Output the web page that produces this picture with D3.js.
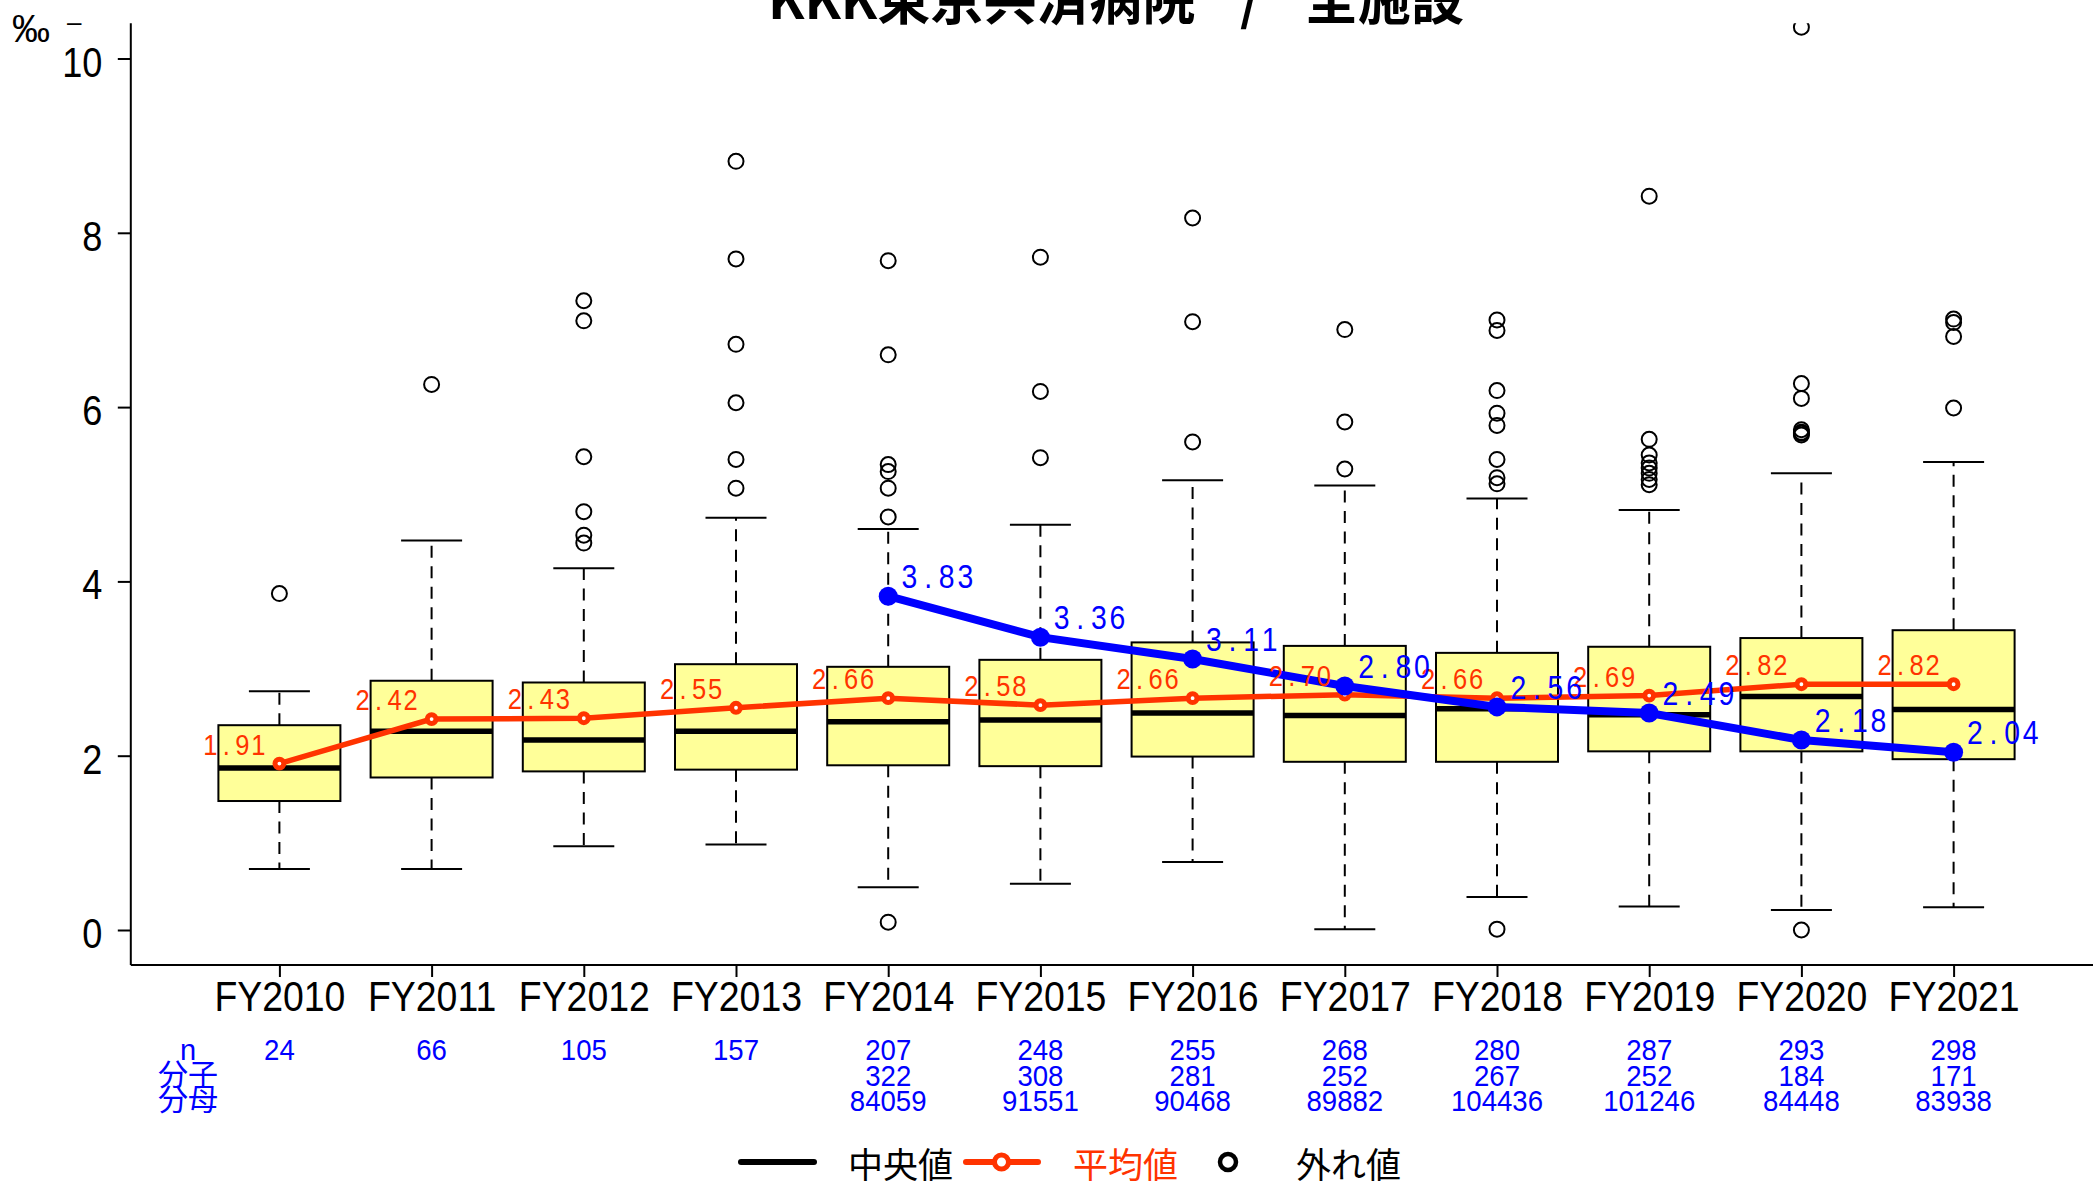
<!DOCTYPE html>
<html><head><meta charset="utf-8">
<script src="https://cdn.jsdelivr.net/npm/d3@7"></script>
<style>body{margin:0;background:#fff;} svg{display:block;}</style>
</head><body><svg id="c" width="2093" height="1184"></svg>
<script>
// ---------- data ----------
const categories = ["FY2010","FY2011","FY2012","FY2013","FY2014","FY2015","FY2016","FY2017","FY2018","FY2019","FY2020","FY2021"];
const nCounts = [24,66,105,157,207,248,255,268,280,287,293,298];
const numerators = [null,null,null,null,322,308,281,252,267,252,184,171];
const denominators = [null,null,null,null,84059,91551,90468,89882,104436,101246,84448,83938];
const whiskerLow = [0.70,0.70,0.96,0.98,0.49,0.53,0.78,0.01,0.38,0.27,0.23,0.26];
const q1 = [1.48,1.75,1.82,1.84,1.89,1.88,1.99,1.93,1.93,2.05,2.05,1.96];
const medians = [1.86,2.28,2.18,2.28,2.39,2.41,2.49,2.46,2.54,2.47,2.68,2.53];
const q3 = [2.35,2.86,2.84,3.05,3.02,3.10,3.30,3.26,3.18,3.25,3.35,3.44];
const whiskerHigh = [2.74,4.47,4.15,4.73,4.60,4.65,5.16,5.10,4.95,4.82,5.24,5.37];
const outliers = [
  [3.86],
  [6.26],
  [7.22,6.99,5.43,4.80,4.53,4.44],
  [8.82,7.70,6.72,6.05,5.40,5.07],
  [7.68,6.60,5.34,5.26,5.07,4.74,0.09],
  [7.72,6.18,5.42],
  [8.17,6.98,5.60],
  [6.89,5.83,5.29],
  [7.00,6.88,6.19,5.93,5.79,5.40,5.19,5.12,0.01],
  [8.42,5.63,5.45,5.36,5.30,5.24,5.17,5.11],
  [10.36,6.27,6.10,5.74,5.71,5.70,5.68,0.00],
  [7.01,6.97,6.81,5.99]
];
const means = [1.91,2.42,2.43,2.55,2.66,2.58,2.66,2.70,2.66,2.69,2.82,2.82];
const overallRates = [null,null,null,null,3.83,3.36,3.11,2.80,2.56,2.49,2.18,2.04];
const yTicks = [0,2,4,6,8,10];
const titleText = "KKK東京共済病院 / 全施設";
const unitLabel = "‰";
const rowLabels = ["n","分子","分母"];
const legendLabels = ["中央値","平均値","外れ値"];

// ---------- styles ----------
const RED = "#FF3300", BLUE = "#0000FF", BOXFILL = "#FFFF99";
const LATIN = "'Liberation Sans', Arial, sans-serif";
const CJK = "'Noto Sans CJK JP', 'Noto Sans', sans-serif";

const svg = d3.select("#c");
const x = d3.scalePoint().domain(categories).range([279.4, 1953.6]);
const y = d3.scaleLinear().domain([0, 10]).range([930, 58.5]);
const axisX0 = 130.8, axisY0 = 965, plotTop = 23.3;

function txt(parent, px, py, str, o) {
  return parent.append("text")
    .attr("transform", `translate(${px},${py}) scale(${o.sx || 1},1)`)
    .attr("font-family", o.ff || LATIN)
    .attr("font-size", o.fs)
    .attr("font-weight", o.fw || "normal")
    .attr("fill", o.fill || "#000")
    .attr("text-anchor", o.anchor || "start")
    .text(str);
}
// fixed-pitch, horizontally condensed label: each character centred in a cell
function cellText(parent, x0, py, str, cell, fs, sx, fill, alignEnd) {
  const n = str.length;
  const start = alignEnd ? x0 - n * cell : x0;
  const xs = d3.range(n).map(i => ((i + 0.5) * cell / sx).toFixed(2)).join(" ");
  return parent.append("text")
    .attr("transform", `translate(${start},${py}) scale(${sx},1)`)
    .attr("x", xs).attr("y", 0)
    .attr("font-family", LATIN).attr("font-size", fs).attr("fill", fill)
    .attr("text-anchor", "middle")
    .text(str);
}

// clip
svg.append("defs").append("clipPath").attr("id", "plotclip")
  .append("rect").attr("x", axisX0).attr("y", plotTop)
  .attr("width", 2093 - axisX0).attr("height", axisY0 - plotTop);

// title
svg.append("text")
  .attr("x", 768).attr("y", 19)
  .attr("font-family", CJK).attr("font-weight", "bold").attr("font-size", 56)
  .attr("word-spacing", 34)
  .attr("textLength", 696).attr("lengthAdjust", "spacingAndGlyphs")
  .text(titleText);

// unit label
txt(svg, 12, 41.5, unitLabel, {fs: 38});
txt(svg, 67, 31, "–", {fs: 26});

// axes
const yAxis = d3.axisLeft(y).tickValues(yTicks).tickSize(13).tickFormat(d3.format("d"));
const gy = svg.append("g").attr("transform", `translate(${axisX0},0)`).call(yAxis);
gy.select(".domain").remove();
gy.selectAll(".tick line").attr("stroke", "#000").attr("stroke-width", 2);
gy.selectAll(".tick text")
  .attr("font-family", LATIN).attr("font-size", 42).attr("fill", "#000")
  .attr("dy", null).attr("y", 17.5).attr("x", -28.5 / 0.86)
  .attr("transform", "scale(0.86,1)");

const xAxis = d3.axisBottom(x).tickSize(12);
const gx = svg.append("g").attr("transform", `translate(0,${axisY0})`).call(xAxis);
gx.select(".domain").remove();
gx.selectAll(".tick line").attr("stroke", "#000").attr("stroke-width", 2);
gx.selectAll(".tick text")
  .attr("font-family", LATIN).attr("font-size", 43).attr("fill", "#000")
  .attr("dy", null).attr("y", 46.5)
  .attr("transform", "scale(0.87,1)");

// frame lines (L shape)
svg.append("line").attr("x1", axisX0).attr("x2", axisX0).attr("y1", plotTop).attr("y2", axisY0)
  .attr("stroke", "#000").attr("stroke-width", 2);
svg.append("line").attr("x1", axisX0).attr("x2", 2093).attr("y1", axisY0).attr("y2", axisY0)
  .attr("stroke", "#000").attr("stroke-width", 2);

// boxplots
const plot = svg.append("g").attr("clip-path", "url(#plotclip)");
const boxData = categories.map((c, i) => ({
  c, lo: whiskerLow[i], q1: q1[i], med: medians[i], q3: q3[i], hi: whiskerHigh[i], out: outliers[i]
}));
const HW = 61, CW = 30.5;
const bg = plot.selectAll("g.box").data(boxData).join("g").attr("class", "box")
  .attr("transform", d => `translate(${x(d.c)},0)`);
bg.append("line").attr("y1", d => y(d.q1)).attr("y2", d => y(d.lo))
  .attr("stroke", "#000").attr("stroke-width", 2).attr("stroke-dasharray", "12,8.5");
bg.append("line").attr("y1", d => y(d.q3)).attr("y2", d => y(d.hi))
  .attr("stroke", "#000").attr("stroke-width", 2).attr("stroke-dasharray", "12,8.5");
bg.append("line").attr("x1", -CW).attr("x2", CW).attr("y1", d => y(d.lo)).attr("y2", d => y(d.lo))
  .attr("stroke", "#000").attr("stroke-width", 2);
bg.append("line").attr("x1", -CW).attr("x2", CW).attr("y1", d => y(d.hi)).attr("y2", d => y(d.hi))
  .attr("stroke", "#000").attr("stroke-width", 2);
bg.append("rect").attr("x", -HW).attr("width", 2 * HW)
  .attr("y", d => y(d.q3)).attr("height", d => y(d.q1) - y(d.q3))
  .attr("fill", BOXFILL).attr("stroke", "#000").attr("stroke-width", 2);
bg.append("line").attr("x1", -HW).attr("x2", HW).attr("y1", d => y(d.med)).attr("y2", d => y(d.med))
  .attr("stroke", "#000").attr("stroke-width", 5.5);
bg.selectAll("circle.out").data(d => d.out).join("circle").attr("class", "out")
  .attr("cy", v => y(v)).attr("r", 7.5)
  .attr("fill", "none").attr("stroke", "#000").attr("stroke-width", 2);

// mean line (red)
const meanData = categories.map((c, i) => ({c, v: means[i]}));
plot.append("path").datum(meanData)
  .attr("d", d3.line().x(d => x(d.c)).y(d => y(d.v)))
  .attr("fill", "none").attr("stroke", RED).attr("stroke-width", 5.5);
plot.selectAll("circle.mean").data(meanData).join("circle").attr("class", "mean")
  .attr("cx", d => x(d.c)).attr("cy", d => y(d.v)).attr("r", 4.4)
  .attr("fill", "#fff").attr("stroke", RED).attr("stroke-width", 5);
const redLabels = svg.append("g");
meanData.forEach(d => {
  cellText(redLabels, x(d.c) - 13, y(d.v) - 9, d3.format(".2f")(d.v), 16, 30, 0.85, RED, true);
});

// overall rate line (blue)
const rateData = categories.map((c, i) => ({c, v: overallRates[i]})).filter(d => d.v != null);
plot.append("path").datum(rateData)
  .attr("d", d3.line().x(d => x(d.c)).y(d => y(d.v)))
  .attr("fill", "none").attr("stroke", BLUE).attr("stroke-width", 8);
plot.selectAll("circle.rate").data(rateData).join("circle").attr("class", "rate")
  .attr("cx", d => x(d.c)).attr("cy", d => y(d.v)).attr("r", 9.5).attr("fill", BLUE);
const blueLabels = svg.append("g");
rateData.forEach(d => {
  cellText(blueLabels, x(d.c) + 12, y(d.v) - 8, d3.format(".2f")(d.v), 18.6, 33, 0.86, BLUE, false);
});

// table rows under axis
const rowY = [1060, 1086, 1111];
categories.forEach((c, i) => {
  txt(svg, x(c), rowY[0], String(nCounts[i]), {fs: 30, sx: 0.92, fill: BLUE, anchor: "middle"});
  if (numerators[i] != null) txt(svg, x(c), rowY[1], String(numerators[i]), {fs: 30, sx: 0.92, fill: BLUE, anchor: "middle"});
  if (denominators[i] != null) txt(svg, x(c), rowY[2], String(denominators[i]), {fs: 30, sx: 0.92, fill: BLUE, anchor: "middle"});
});
txt(svg, 188, rowY[0], rowLabels[0], {fs: 29, fill: BLUE, anchor: "middle"});
txt(svg, 188, rowY[1] - 1, rowLabels[1], {ff: CJK, fs: 30, fill: BLUE, anchor: "middle"});
txt(svg, 188, rowY[2] - 1, rowLabels[2], {ff: CJK, fs: 30, fill: BLUE, anchor: "middle"});

// legend
const lg = svg.append("g");
const ly = 1162;
lg.append("line").attr("x1", 741).attr("x2", 814).attr("y1", ly).attr("y2", ly)
  .attr("stroke", "#000").attr("stroke-width", 6).attr("stroke-linecap", "round");
txt(lg, 848, 1178, legendLabels[0], {ff: CJK, fs: 35});
lg.append("line").attr("x1", 966).attr("x2", 1038).attr("y1", ly).attr("y2", ly)
  .attr("stroke", RED).attr("stroke-width", 6).attr("stroke-linecap", "round");
lg.append("circle").attr("cx", 1001.5).attr("cy", ly).attr("r", 7)
  .attr("fill", "#fff").attr("stroke", RED).attr("stroke-width", 5);
txt(lg, 1073, 1178, legendLabels[1], {ff: CJK, fs: 35, fill: RED});
lg.append("circle").attr("cx", 1228).attr("cy", ly).attr("r", 8)
  .attr("fill", "none").attr("stroke", "#000").attr("stroke-width", 4.5);
txt(lg, 1296, 1178, legendLabels[2], {ff: CJK, fs: 35});
</script></body></html>
